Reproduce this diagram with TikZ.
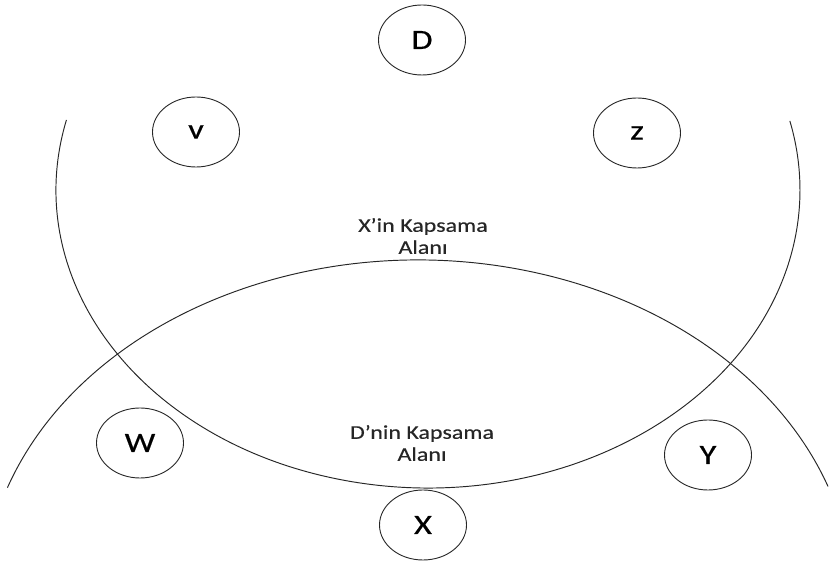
\documentclass[tikz,border=0pt]{standalone}
\usepackage{fontspec}
\setmainfont{Carlito}
\newfontfamily\widefont[FakeStretch=1.23,FakeBold=0.5]{Carlito}
\newfontfamily\widelabel[FakeStretch=1.23,FakeBold=0.25]{Carlito}
\usetikzlibrary{shapes.geometric}
\begin{document}
\begin{tikzpicture}[x=1pt,y=1pt,
  station/.style={ellipse, draw=black!85, line width=0.9pt, minimum width=87pt, minimum height=70pt, inner sep=0pt, font=\widefont\fontsize{28}{30}\selectfont},
  area/.style={draw=black!85, line width=0.95pt},
  lbl/.style={align=center, font=\widelabel\fontsize{19.5}{22}\selectfont, text=black!85}]
\useasboundingbox (0,0) rectangle (832,561);
\fill[white] (0,0) rectangle (832,561);
% coverage areas
\coordinate (xc) at (428,371);
\coordinate (dc) at (418,-39);
\draw[area] (xc) ++(166.4:372 and 298) arc[start angle=166.4, end angle=373.4, x radius=372, y radius=298];
\draw[area] (dc) ++(160.7:435 and 340) arc[start angle=160.7, end angle=19.5, x radius=435, y radius=340];
% stations
\node[station] (D) at (422,521) {D};
\node[station] (v) at (196,429) {v};
\node[station] (z) at (637,428) {z};
\node[station] (W) at (140,118) {W};
\node[station] (X) at (423,36) {X};
\node[station] (Y) at (708,106) {Y};
% labels
\node[lbl] (xl) at (423,325) {X’in Kapsama\\Alanı};
\node[lbl] (dl) at (422,118) {D’nin Kapsama\\Alanı};
\end{tikzpicture}
\end{document}
